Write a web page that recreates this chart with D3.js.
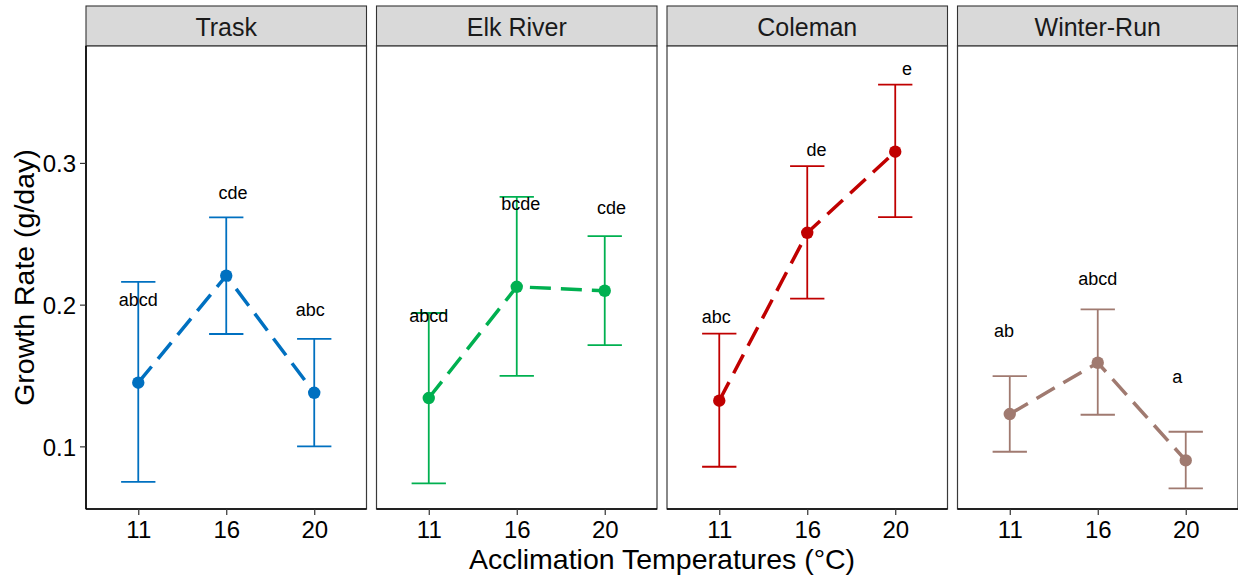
<!DOCTYPE html>
<html>
<head>
<meta charset="utf-8">
<script src="https://cdn.jsdelivr.net/npm/d3@7"></script>
<style>
  html, body { margin: 0; padding: 0; background: #fff; }
  svg { display: block; font-family: "Liberation Sans", Arial, sans-serif; }
</style>
</head>
<body>
<svg id="chart" width="1238" height="577"></svg>
<script>
// ---- data ----
const facets = ["Trask", "Elk River", "Coleman", "Winter-Run"];
const temps = ["11", "16", "20"];
const colors = ["#0070C0", "#00B050", "#C00000", "#A07A70"];
const meanGrowth = [
  [0.1449, 0.2204, 0.1378],
  [0.1341, 0.2126, 0.2098],
  [0.1322, 0.2507, 0.3079],
  [0.1228, 0.1590, 0.0901]
];
const upperCI = [
  [0.2160, 0.2616, 0.1759],
  [0.1941, 0.2761, 0.2484],
  [0.1795, 0.2978, 0.3552],
  [0.1496, 0.1967, 0.1103]
];
const lowerCI = [
  [0.0750, 0.1793, 0.1000],
  [0.0739, 0.1498, 0.1715],
  [0.0856, 0.2042, 0.2618],
  [0.0962, 0.1223, 0.0704]
];
const letters = [
  ["abcd", "cde", "abc"],
  ["abcd", "bcde", "cde"],
  ["abc", "de", "e"],
  ["ab", "abcd", "a"]
];
const letterY = [
  [0.2039, 0.2789, 0.1965],
  [0.1925, 0.2713, 0.2687],
  [0.1914, 0.3095, 0.3666],
  [0.1819, 0.2182, 0.1495]
];
const letterNudge = [
  [0, 0.077, -0.046],
  [0, 0.046, 0.077],
  [-0.034, 0.106, 0.134],
  [-0.064, 0, -0.097]
];
const yTicks = [0.1, 0.2, 0.3];
const yDomain = [0.0558, 0.3825];
const xTitle = "Acclimation Temperatures (°C)";
const yTitle = "Growth Rate (g/day)";

// ---- layout ----
const svg = d3.select("#chart");
const panelLeft0 = 86, panelStep = 290.5, panelW = 280.5;
const panelTop = 46, panelBottom = 509;
const stripTop = 6;

const y = d3.scaleLinear().domain(yDomain).range([panelBottom, panelTop]);

facets.forEach((name, i) => {
  const left = panelLeft0 + i * panelStep;
  const x = d3.scalePoint().domain(temps).range([left, left + panelW]).padding(0.594);
  const step = x.step();
  const g = svg.append("g");
  const col = colors[i];

  // strip
  g.append("rect")
    .attr("x", left).attr("y", stripTop)
    .attr("width", panelW).attr("height", panelTop - stripTop)
    .attr("fill", "#D9D9D9").attr("stroke", "#333").attr("stroke-width", 1.1);
  g.append("text")
    .attr("x", left + panelW / 2).attr("y", 35.5)
    .attr("text-anchor", "middle").attr("font-size", 25).attr("fill", "#1a1a1a")
    .text(name);

  // panel
  g.append("rect")
    .attr("x", left).attr("y", panelTop)
    .attr("width", panelW).attr("height", panelBottom - panelTop)
    .attr("fill", "#fff").attr("stroke", "#3a3a3a").attr("stroke-width", 1.2);

  const rows = temps.map((t, j) => ({
    t, m: meanGrowth[i][j], lo: lowerCI[i][j], hi: upperCI[i][j],
    lab: letters[i][j], ly: letterY[i][j], nx: letterNudge[i][j]
  }));

  // dashed line
  const line = d3.line().x(d => x(d.t)).y(d => y(d.m));
  g.append("path").datum(rows)
    .attr("d", line).attr("fill", "none")
    .attr("stroke", col).attr("stroke-width", 3.5)
    .attr("stroke-dasharray", "21,10");

  // error bars
  const eb = g.selectAll(".eb").data(rows).enter().append("g");
  eb.append("line")
    .attr("x1", d => x(d.t)).attr("x2", d => x(d.t))
    .attr("y1", d => y(d.lo)).attr("y2", d => y(d.hi))
    .attr("stroke", col).attr("stroke-width", 1.8);
  eb.append("line")
    .attr("x1", d => x(d.t) - step * 0.195).attr("x2", d => x(d.t) + step * 0.195)
    .attr("y1", d => y(d.hi)).attr("y2", d => y(d.hi))
    .attr("stroke", col).attr("stroke-width", 1.8);
  eb.append("line")
    .attr("x1", d => x(d.t) - step * 0.195).attr("x2", d => x(d.t) + step * 0.195)
    .attr("y1", d => y(d.lo)).attr("y2", d => y(d.lo))
    .attr("stroke", col).attr("stroke-width", 1.8);

  // points
  g.selectAll(".pt").data(rows).enter().append("circle")
    .attr("cx", d => x(d.t)).attr("cy", d => y(d.m)).attr("r", 6.2)
    .attr("fill", col);

  // letters
  g.selectAll(".lab").data(rows).enter().append("text")
    .attr("x", d => x(d.t) + d.nx * step).attr("y", d => y(d.ly) + 6.5)
    .attr("text-anchor", "middle").attr("font-size", 18).attr("fill", "#000")
    .text(d => d.lab);

  // bottom axis
  const xAxis = d3.axisBottom(x).tickSize(6).tickPadding(6);
  const ax = svg.append("g").attr("transform", `translate(0,${panelBottom})`).call(xAxis);
  ax.select(".domain").attr("stroke", "#000").attr("stroke-width", 1.6)
    .attr("d", `M${left},0H${left + panelW}`);
  ax.selectAll(".tick line").attr("stroke", "#333").attr("stroke-width", 1.2);
  ax.selectAll(".tick text").attr("font-size", 24).attr("fill", "#000")
    .attr("font-family", "Liberation Sans, Arial, sans-serif").attr("dy", null).attr("y", 29);

  if (i === 0) {
    const yAxis = d3.axisLeft(y).tickValues(yTicks).tickFormat(d3.format(".1f")).tickSize(6).tickPadding(4);
    const ay = svg.append("g").attr("transform", `translate(${left},0)`).call(yAxis);
    ay.select(".domain").attr("stroke", "#000").attr("stroke-width", 1.6)
      .attr("d", `M0,${panelTop}V${panelBottom}`);
    ay.selectAll(".tick line").attr("stroke", "#333").attr("stroke-width", 1.2);
    ay.selectAll(".tick text").attr("font-size", 24).attr("fill", "#000")
      .attr("font-family", "Liberation Sans, Arial, sans-serif").attr("dy", "0.36em");
  }
});

// axis titles
svg.append("text")
  .attr("x", (panelLeft0 + 1238) / 2).attr("y", 569)
  .attr("text-anchor", "middle").attr("font-size", 28.5).attr("fill", "#000")
  .text(xTitle);
svg.append("text")
  .attr("transform", `translate(33.5,${(panelTop + panelBottom) / 2}) rotate(-90)`)
  .attr("text-anchor", "middle").attr("font-size", 28.5).attr("fill", "#000")
  .text(yTitle);
</script>
</body>
</html>
